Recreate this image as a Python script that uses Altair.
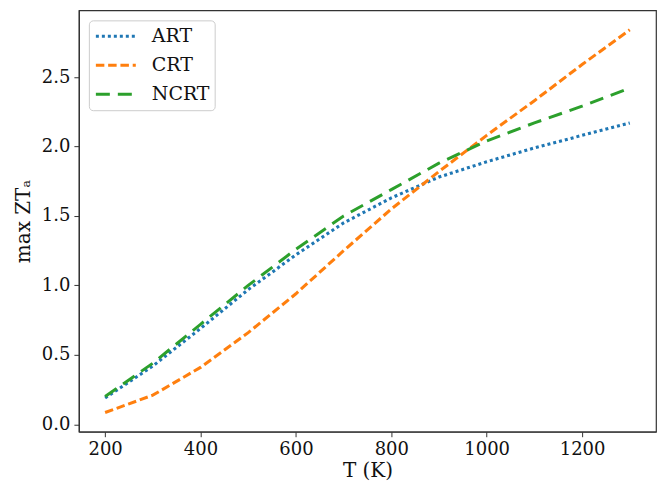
import altair as alt
import pandas as pd

temps = [200, 300, 400, 500, 600, 700, 800, 900, 1000, 1100, 1200, 1300]
art = [0.19, 0.42, 0.69, 0.97, 1.22, 1.45, 1.63, 1.78, 1.89, 1.99, 2.08, 2.17]
crt = [0.085, 0.21, 0.41, 0.66, 0.94, 1.25, 1.55, 1.82, 2.08, 2.33, 2.59, 2.84]
ncrt = [0.20, 0.44, 0.72, 1.00, 1.26, 1.50, 1.69, 1.88, 2.04, 2.17, 2.29, 2.42]
series_names = ["ART", "CRT", "NCRT"]
colors = ["#1f77b4", "#ff7f0e", "#2ca02c"]
dashes = [[3.0, 3.0], [8.5, 3.8], [14, 8]]
widths = [3.1, 3.0, 3.6]
x_ticks = [200, 400, 600, 800, 1000, 1200]
y_ticks = [0.0, 0.5, 1.0, 1.5, 2.0, 2.5]

rows = []
for name, vals in zip(series_names, [art, crt, ncrt]):
    for t, v in zip(temps, vals):
        rows.append({"T": t, "ZT": v, "series": name})
df = pd.DataFrame(rows)

FONT = "DejaVu Serif"

legend = alt.Legend(
    title=None, orient="none", legendX=10, legendY=10,
    symbolType="stroke", symbolSize=1600,
    labelFontSize=19, labelFont=FONT, labelColor="#111",
    fillColor="white", strokeColor="#cccccc", cornerRadius=4,
    padding=5, clipHeight=22, rowPadding=7, labelOffset=14,
)

chart = alt.Chart(df).mark_line().encode(
    x=alt.X("T:Q", title="T (K)",
            scale=alt.Scale(domain=[145, 1355], nice=False, zero=False),
            axis=alt.Axis(values=x_ticks, format="d", grid=False)),
    y=alt.Y("ZT:Q", title="max ZTₐ",
            scale=alt.Scale(domain=[-0.053, 2.98], nice=False, zero=False),
            axis=alt.Axis(values=y_ticks, format=".1f", grid=False)),
    color=alt.Color("series:N", scale=alt.Scale(domain=series_names, range=colors), legend=legend),
    strokeDash=alt.StrokeDash("series:N", scale=alt.Scale(domain=series_names, range=dashes), legend=legend),
    strokeWidth=alt.StrokeWidth("series:N", scale=alt.Scale(domain=series_names, range=widths), legend=legend),
).properties(
    width=578, height=422,
    padding={"left": 5, "top": 2, "right": 2, "bottom": 0},
).configure_view(
    stroke="#333333", strokeWidth=1.2,
).configure_axis(
    labelFont=FONT, titleFont=FONT, labelFontSize=18, titleFontSize=20,
    labelColor="#111", titleColor="#111", titleFontWeight="normal",
    domainColor="#333333", tickColor="#333333", tickSize=5,
    labelPadding=4, domainWidth=1.2,
).configure_axisX(
    titlePadding=2,
).configure_axisY(
    titlePadding=8,
)

chart.save("out.html", embed_options={"renderer": "svg", "actions": False})
